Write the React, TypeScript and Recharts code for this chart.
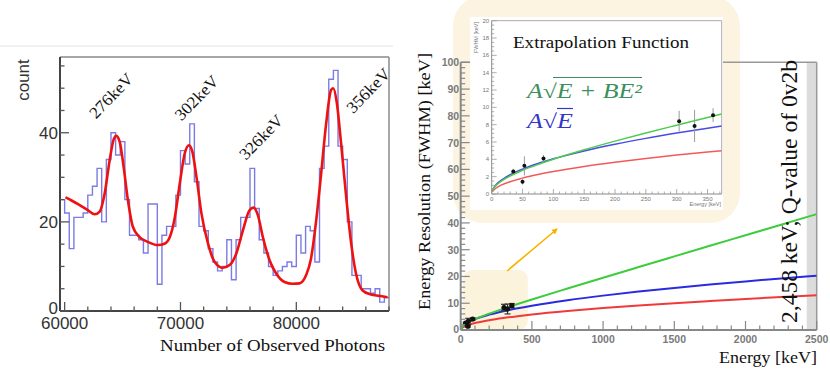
import React from "react";
import {
  ComposedChart,
  Line,
  Scatter,
  ErrorBar,
  XAxis,
  YAxis,
  ReferenceLine,
  ReferenceArea,
} from "recharts";

// ---------------- Left: photon-count histogram ----------------
const histStart = 59600;
const histBinWidth = 400;
const histEnd = 88000;
const histCounts = [
  25, 22, 14, 21, 21, 22, 26, 28, 32, 20, 34, 40, 35, 38, 25, 17, 17, 16, 13, 24, 24, 6, 17, 19, 19, 26,
  36, 33, 42, 29, 19, 18, 14, 11, 9, 10, 16, 7, 16, 21, 21, 32, 23, 16, 13, 10, 8, 9, 10, 11, 10, 17, 13,
  19, 18, 11, 32, 37, 52, 54, 37, 34, 20, 8, 8, 5, 5, 4, 5, 2, 3,
];
const fitPhotons = [
  60070, 60600, 61160, 62020, 62600, 63030, 63460, 63890, 64260, 64460, 64750, 65090, 65460, 65890, 66470,
  67190, 68050, 68620, 69080, 69510, 69940, 70370, 70740, 71030, 71380, 71810, 72380, 72950, 73670, 74240,
  74820, 75390, 75960, 76310, 76680, 77110, 77690, 78260, 78980, 79700, 80270, 80840, 81270, 81700, 82130,
  82560, 83000, 83190, 83480, 83850, 84290, 84720, 85150, 85720, 86440, 87150, 87870,
];
const fitCounts = [
  25.5, 24.8, 24.0, 22.6, 21.7, 22.3, 26.4, 33.9, 38.7, 39.3, 38.0, 32.4, 24.9, 18.9, 16.6, 15.5, 14.8, 15.1,
  16.6, 21.0, 28.6, 35.4, 37.2, 35.7, 30.1, 21.9, 15.1, 11.0, 9.7, 10.3, 12.9, 18.1, 22.6, 23.2, 21.5, 16.6,
  11.4, 8.4, 6.5, 6.1, 6.2, 8.0, 11.8, 20.0, 30.5, 41.7, 49.6, 50.0, 47.0, 38.0, 26.0, 15.5, 8.4, 4.6, 3.7,
  3.4, 3.1,
];
const leftXTicks = [60000, 62000, 64000, 66000, 68000, 70000, 72000, 74000, 76000, 78000, 80000, 82000, 84000, 86000, 88000];
const leftYTicks = [0, 5, 10, 15, 20, 25, 30, 35, 40, 45, 50, 55];
const peakLabels = ["276keV", "302keV", "326keV", "356keV"];

// ---------------- Right: energy resolution ----------------
const energyGrid = [1, 10, 25, 50, 100, 200, 300, 400, 500, 750, 1000, 1250, 1500, 1750, 2000, 2250, 2500];
const fwhmQuadratic = [0.37, 1.18, 1.89, 2.73, 4.02, 6.1, 7.94, 9.69, 11.39, 15.5, 19.54, 23.53, 27.5, 31.46, 35.4, 39.34, 43.28];
const fwhmSqrtFit = [0.41, 1.28, 2.03, 2.87, 4.06, 5.74, 7.03, 8.12, 9.08, 11.12, 12.84, 14.35, 15.72, 16.98, 18.16, 19.26, 20.3];
const fwhmSqrtLow = [0.26, 0.82, 1.3, 1.83, 2.59, 3.66, 4.49, 5.18, 5.79, 7.09, 8.19, 9.16, 10.03, 10.83, 11.58, 12.29, 12.95];

const insetGrid = [1, 5, 10, 25, 50, 75, 100, 150, 200, 250, 300, 350, 373];
const insetQuadratic = [0.37, 0.83, 1.18, 1.89, 2.73, 3.41, 4.02, 5.1, 6.1, 7.04, 7.94, 8.83, 9.23];
const insetSqrtFit = [0.41, 0.91, 1.28, 2.03, 2.87, 3.52, 4.06, 4.97, 5.74, 6.42, 7.03, 7.6, 7.84];
const insetSqrtLow = [0.26, 0.58, 0.82, 1.3, 1.83, 2.24, 2.59, 3.17, 3.66, 4.1, 4.49, 4.85, 5.0];

const measEnergy = [35, 50, 53, 84, 304, 329, 359];
const measFwhm = [2.6, 1.4, 3.25, 4.1, 8.4, 7.85, 9.1];
const measErr = [0.3, 0.3, 1.1, 0.4, 1.2, 1.85, 0.8];

const rightXTicks = [
  0, 100, 200, 300, 400, 500, 600, 700, 800, 900, 1000, 1100, 1200, 1300, 1400, 1500, 1600, 1700, 1800, 1900,
  2000, 2100, 2200, 2300, 2400, 2500,
];
const rightYTicks = [
  0, 2, 4, 6, 8, 10, 12, 14, 16, 18, 20, 22, 24, 26, 28, 30, 32, 34, 36, 38, 40, 42, 44, 46, 48, 50, 52, 54, 56,
  58, 60, 62, 64, 66, 68, 70, 72, 74, 76, 78, 80, 82, 84, 86, 88, 90, 92, 94, 96, 98, 100,
];
const insetXTicks = [
  0, 10, 20, 30, 40, 50, 60, 70, 80, 90, 100, 110, 120, 130, 140, 150, 160, 170, 180, 190, 200, 210, 220, 230,
  240, 250, 260, 270, 280, 290, 300, 310, 320, 330, 340, 350, 360, 370,
];
const insetYTicks = [
  0, 0.5, 1, 1.5, 2, 2.5, 3, 3.5, 4, 4.5, 5, 5.5, 6, 6.5, 7, 7.5, 8, 8.5, 9, 9.5, 10, 10.5, 11, 11.5, 12, 12.5,
  13, 13.5, 14, 14.5, 15, 15.5, 16, 16.5, 17, 17.5, 18, 18.5, 19, 19.5, 20,
];

// ---------------- tables ----------------
const histTable = [
  ...histCounts.map((v, i) => ({ X: histStart + i * histBinWidth, v })),
  { X: histEnd, v: histCounts[histCounts.length - 1] },
];
const fitTable = fitPhotons.map((X, i) => ({ X, v: fitCounts[i] }));
const mk = (xs: number[], ys: number[]) => xs.map((E, i) => ({ E, v: ys[i] }));
const mainGreen = mk(energyGrid, fwhmQuadratic);
const mainBlue = mk(energyGrid, fwhmSqrtFit);
const mainRed = mk(energyGrid, fwhmSqrtLow);
const insGreen = mk(insetGrid, insetQuadratic);
const insBlue = mk(insetGrid, insetSqrtFit);
const insRed = mk(insetGrid, insetSqrtLow);
const measTable = measEnergy.map((E, i) => ({ E, v: measFwhm[i], err: measErr[i] }));

const serif = "'Liberation Serif', 'Times New Roman', serif";
const sans = "'Liberation Sans', Arial, Helvetica, sans-serif";

// ---------------- tick renderers ----------------
const LeftXTick = (p: any) => {
  const v = p.payload.value as number;
  const major = v % 10000 === 0;
  return (
    <g>
      <line x1={p.x} x2={p.x} y1={p.y} y2={p.y - (major ? 9 : 4.5)} stroke="#555" strokeWidth={1.3} />
      {major && (
        <text x={p.x} y={p.y + 12.5} textAnchor="middle" dominantBaseline="central" fontFamily={sans} fontSize={17} fill="#333">
          {v}
        </text>
      )}
    </g>
  );
};
const LeftYTick = (p: any) => {
  const v = p.payload.value as number;
  const major = v % 20 === 0;
  return (
    <g>
      <line x1={p.x} x2={p.x + (major ? 9 : 4.5)} y1={p.y} y2={p.y} stroke="#555" strokeWidth={1.3} />
      {major && (
        <text x={p.x - 2} y={p.y - (v === 0 ? 3 : -1)} textAnchor="end" dominantBaseline="central" fontFamily={sans} fontSize={17} fill="#333">
          {v}
        </text>
      )}
    </g>
  );
};
const RightXTick = (p: any) => {
  const v = p.payload.value as number;
  const major = v % 500 === 0;
  return (
    <g>
      <line x1={p.x} x2={p.x} y1={p.y} y2={p.y - (major ? 9 : 4.5)} stroke="#888" strokeWidth={1.2} />
      {major && (
        <text x={p.x} y={p.y + 8.5} textAnchor="middle" dominantBaseline="central" fontFamily={sans} fontWeight={700} fontSize={10.5} fill="#7a7a7a">
          {v}
        </text>
      )}
    </g>
  );
};
const RightYTick = (p: any) => {
  const v = p.payload.value as number;
  const major = v % 10 === 0;
  return (
    <g>
      <line x1={p.x} x2={p.x + (major ? 9 : 4.5)} y1={p.y} y2={p.y} stroke="#888" strokeWidth={1.2} />
      {major && (
        <text x={p.x - 1.5} y={p.y - (v === 0 ? 1 : 0)} textAnchor="end" dominantBaseline="central" fontFamily={sans} fontWeight={700} fontSize={10.5} fill="#7a7a7a">
          {v}
        </text>
      )}
    </g>
  );
};
const InsetXTick = (p: any) => {
  const v = p.payload.value as number;
  const major = v % 50 === 0;
  return (
    <g>
      <line x1={p.x} x2={p.x} y1={p.y} y2={p.y - (major ? 5 : 2.5)} stroke="#999" strokeWidth={0.8} />
      {major && (
        <text x={p.x} y={p.y + 4.5} textAnchor="middle" dominantBaseline="central" fontFamily={sans} fontSize={6} fill="#777">
          {v}
        </text>
      )}
    </g>
  );
};
const InsetYTick = (p: any) => {
  const v = p.payload.value as number;
  const major = v % 2 === 0;
  return (
    <g>
      <line x1={p.x} x2={p.x + (major ? 5 : 2.5)} y1={p.y} y2={p.y} stroke="#999" strokeWidth={0.8} />
      {major && (
        <text x={p.x - 2.5} y={p.y} textAnchor="end" dominantBaseline="central" fontFamily={sans} fontSize={6} fill="#777">
          {v}
        </text>
      )}
    </g>
  );
};

const RoundRect = (r: number) => (p: any) => (
  <rect x={p.x} y={p.y} width={p.width} height={p.height} rx={r} ry={r} fill={p.fill} />
);
const Dot = (r: number) => (p: any) => <circle cx={p.cx} cy={p.cy} r={r} fill="#111" />;

const abs = (l: number, t: number, w: number, h: number): React.CSSProperties => ({
  position: "absolute",
  left: l,
  top: t,
  width: w,
  height: h,
});

export default function App() {
  return (
    <div style={{ position: "absolute", left: 0, top: 0, width: 830, height: 381, background: "#fff", overflow: "hidden" }}>
      {/* big beige call-out box */}
      <div style={{ ...abs(453, -4, 287, 227), background: "#fcf4e1", borderRadius: 30 }} />

      {/* Left histogram */}
      <div style={abs(0, 0, 420, 381)}>
        <ComposedChart width={420} height={381} margin={{ top: 57, right: 31, bottom: 0, left: 0 }}>
          <XAxis
            dataKey="X"
            type="number"
            domain={[histStart, histEnd]}
            allowDataOverflow
            ticks={leftXTicks}
            interval={0}
            height={70}
            tickSize={0}
            tickMargin={0}
            tickLine={false}
            axisLine={{ stroke: "#444", strokeWidth: 2 }}
            tick={LeftXTick}
          />
          <YAxis
            dataKey="v"
            type="number"
            domain={[0, 57]}
            allowDataOverflow
            ticks={leftYTicks}
            interval={0}
            width={60}
            tickSize={0}
            tickMargin={0}
            tickLine={false}
            axisLine={{ stroke: "#444", strokeWidth: 2 }}
            tick={LeftYTick}
          />
          <ReferenceLine y={57} stroke="#8a8a8a" strokeWidth={1.5} />
          <ReferenceLine x={histEnd} stroke="#8a8a8a" strokeWidth={1.5} />
          <Line
            data={histTable}
            dataKey="v"
            type="stepAfter"
            stroke="#5a5adc"
            strokeOpacity={0.8}
            strokeWidth={1.4}
            dot={false}
            isAnimationActive={false}
          />
          <Line
            data={fitTable}
            dataKey="v"
            type="monotone"
            stroke="#ee1111"
            strokeWidth={2.6}
            dot={false}
            isAnimationActive={false}
          />
        </ComposedChart>
      </div>

      {/* Right main chart */}
      <div style={abs(420, 0, 410, 381)}>
        <ComposedChart width={410} height={381} margin={{ top: 62.3, right: 13.3, bottom: 0, left: 0 }}>
          <XAxis
            dataKey="E"
            type="number"
            domain={[0, 2500]}
            allowDataOverflow
            ticks={rightXTicks}
            interval={0}
            height={51}
            tickSize={0}
            tickMargin={0}
            tickLine={false}
            axisLine={{ stroke: "#888", strokeWidth: 2 }}
            tick={RightXTick}
          />
          <YAxis
            dataKey="v"
            type="number"
            domain={[0, 100]}
            allowDataOverflow
            ticks={rightYTicks}
            interval={0}
            width={40.7}
            tickSize={0}
            tickMargin={0}
            tickLine={false}
            axisLine={{ stroke: "#888", strokeWidth: 2 }}
            tick={RightYTick}
          />
          <ReferenceArea x1={2430} x2={2500} y1={0} y2={100} fill="#dcdcdc" fillOpacity={1} stroke="none" />
          <ReferenceArea x1={16} x2={471} y1={0} y2={22.4} fill="#fcf3dc" fillOpacity={1} stroke="none" shape={RoundRect(9)} />
          <ReferenceLine y={100} stroke="#999" strokeWidth={1.5} />
          <ReferenceLine x={2500} stroke="#999" strokeWidth={1.5} />
          <Line data={mainRed} dataKey="v" type="monotone" stroke="#f03a3a" strokeWidth={2} dot={false} isAnimationActive={false} />
          <Line data={mainBlue} dataKey="v" type="monotone" stroke="#2a2ae2" strokeWidth={2} dot={false} isAnimationActive={false} />
          <Line data={mainGreen} dataKey="v" type="monotone" stroke="#3ccc3c" strokeWidth={2} dot={false} isAnimationActive={false} />
          <Scatter data={measTable} dataKey="v" shape={Dot(2.6)} isAnimationActive={false}>
            <ErrorBar dataKey="err" direction="y" width={3} stroke="#333" strokeWidth={1.2} />
          </Scatter>
        </ComposedChart>
      </div>

      {/* Inset */}
      <div style={{ ...abs(470, 17, 253, 193), background: "#fff" }} />
      <div style={abs(470, 18, 253, 192)}>
        <ComposedChart width={253} height={192} margin={{ top: 2.7, right: 1.3, bottom: 0, left: 0 }}>
          <XAxis
            dataKey="E"
            type="number"
            domain={[0, 373]}
            allowDataOverflow
            ticks={insetXTicks}
            interval={0}
            height={16}
            tickSize={0}
            tickMargin={0}
            tickLine={false}
            axisLine={{ stroke: "#888", strokeWidth: 1 }}
            tick={InsetXTick}
          />
          <YAxis
            dataKey="v"
            type="number"
            domain={[0, 20]}
            allowDataOverflow
            ticks={insetYTicks}
            interval={0}
            width={21.7}
            tickSize={0}
            tickMargin={0}
            tickLine={false}
            axisLine={{ stroke: "#888", strokeWidth: 1 }}
            tick={InsetYTick}
          />
          <ReferenceLine y={20} stroke="#aaa" strokeWidth={1} />
          <ReferenceLine x={373} stroke="#aaa" strokeWidth={1} />
          <Line data={insRed} dataKey="v" type="monotone" stroke="#f25a5a" strokeWidth={1.5} dot={false} isAnimationActive={false} />
          <Line data={insBlue} dataKey="v" type="monotone" stroke="#4a4ae6" strokeWidth={1.5} dot={false} isAnimationActive={false} />
          <Line data={insGreen} dataKey="v" type="monotone" stroke="#4ccc4c" strokeWidth={1.5} dot={false} isAnimationActive={false} />
          <Scatter data={measTable} dataKey="v" shape={Dot(2)} isAnimationActive={false}>
            <ErrorBar dataKey="err" direction="y" width={0} stroke="#9a9a9a" strokeWidth={1} />
          </Scatter>
        </ComposedChart>
      </div>

      {/* Annotations */}
      <svg width={830} height={381} style={{ position: "absolute", left: 0, top: 0, pointerEvents: "none" }}>
        <defs>
          <marker id="arrowHead" markerWidth="6" markerHeight="6" refX="5" refY="3" orient="auto" markerUnits="userSpaceOnUse">
            <path d="M0,0 L6,3 L0,6 z" fill="#f5b400" />
          </marker>
        </defs>
        <line x1={0} x2={393} y1={46} y2={46} stroke="#ececec" strokeWidth={1.5} />
        <text transform="translate(29,80) rotate(-90)" textAnchor="middle" fontFamily={sans} fontSize={17} fill="#333">
          count
        </text>
        <text x={160} y={350.7} fontFamily={serif} fontSize={17.5} fill="#111" textLength={225} lengthAdjust="spacingAndGlyphs">
          Number of Observed Photons
        </text>
        {[
          [111.2, 95.8],
          [196.7, 98],
          [261.2, 137.2],
          [368.3, 90.7],
        ].map(([cx, cy], i) => (
          <text
            key={i}
            transform={`translate(${cx},${cy}) rotate(-46)`}
            textAnchor="middle"
            dominantBaseline="central"
            fontFamily={serif}
            fontSize={16.5}
            fill="#111"
            textLength={55}
            lengthAdjust="spacingAndGlyphs"
          >
            {peakLabels[i]}
          </text>
        ))}

        <text
          transform="translate(429.5,181.5) rotate(-90)"
          textAnchor="middle"
          fontFamily={serif}
          fontSize={17}
          fill="#111"
          textLength={257}
          lengthAdjust="spacingAndGlyphs"
        >
          Energy Resolution (FWHM) [keV]
        </text>
        <text x={719} y={363.3} fontFamily={serif} fontSize={17} fill="#111" textLength={98} lengthAdjust="spacingAndGlyphs">
          Energy [keV]
        </text>
        <text
          transform="translate(796.5,191.5) rotate(-90)"
          textAnchor="middle"
          fontFamily={serif}
          fontSize={24}
          fill="#111"
          textLength={263}
          lengthAdjust="spacingAndGlyphs"
        >
          2,458 keV; Q-value of 0v2b
        </text>

        <line x1={507} y1={271} x2={557} y2={229} stroke="#f5b400" strokeWidth={1.6} markerEnd="url(#arrowHead)" />

        <text x={513} y={48.3} fontFamily={serif} fontSize={17.5} fill="#111" textLength={176} lengthAdjust="spacingAndGlyphs">
          Extrapolation Function
        </text>
        <text x={527} y={97.7} fontFamily={serif} fontSize={20} fill="#3b8f5c" fontStyle="italic" textLength={115} lengthAdjust="spacingAndGlyphs">
          A√E + BE²
        </text>
        <line x1={553} x2={642} y1={77.5} y2={77.5} stroke="#3b8f5c" strokeWidth={1.2} />
        <text x={527} y={127.7} fontFamily={serif} fontSize={20} fill="#3535c8" fontStyle="italic" textLength={46} lengthAdjust="spacingAndGlyphs">
          A√E
        </text>
        <line x1={557} x2={573} y1={108.5} y2={108.5} stroke="#3535c8" strokeWidth={1.2} />

        <text transform="translate(477.5,22) rotate(-90)" textAnchor="end" fontFamily={sans} fontSize={5.5} fill="#777">
          FWHM [keV]
        </text>
        <text x={721} y={206} textAnchor="end" fontFamily={sans} fontSize={5.5} fill="#777">
          Energy [keV]
        </text>
      </svg>
    </div>
  );
}
